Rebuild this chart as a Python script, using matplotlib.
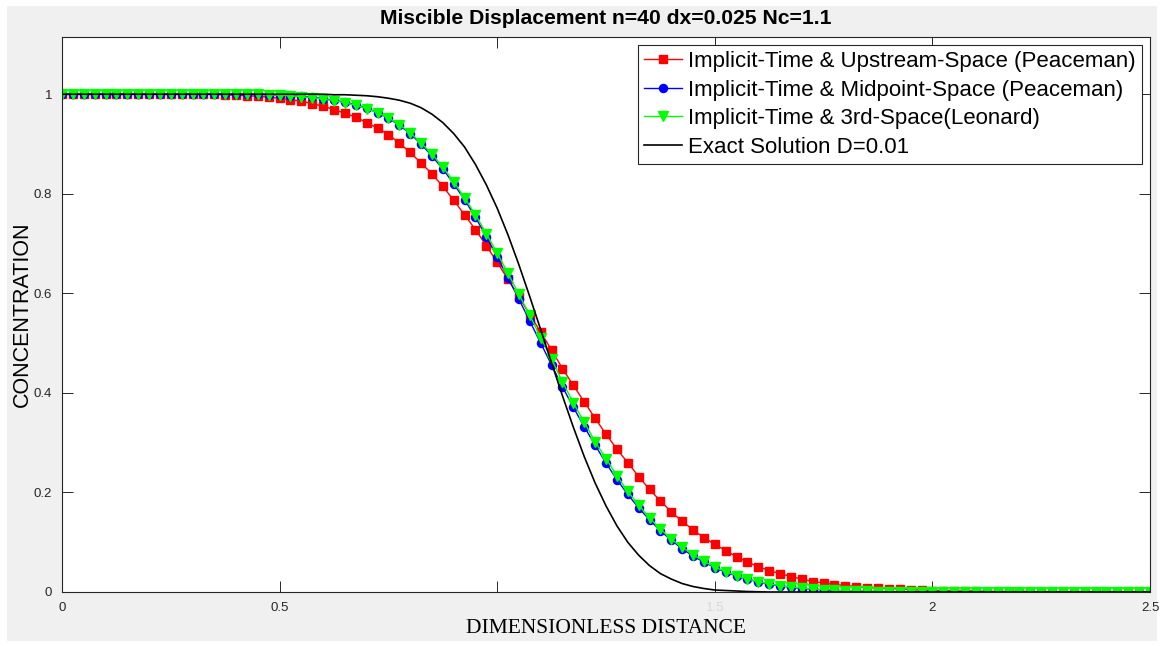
import numpy as np
import matplotlib
matplotlib.use("Agg")
import matplotlib.pyplot as plt
from matplotlib.patches import Rectangle

# grid: n=40 cells per unit, dx=0.025, 0..2.5
x = np.linspace(0, 2.5, 101)

upstream = [
    1.0, 1.0, 1.0, 1.0, 1.0, 1.0, 1.0, 1.0, 1.0, 1.0,
    1.0, 1.0, 1.0, 1.0, 1.0, 0.999, 0.998, 0.997, 0.996, 0.994,
    0.992, 0.989, 0.986, 0.981, 0.976, 0.969, 0.962, 0.954, 0.943, 0.932,
    0.919, 0.902, 0.883, 0.862, 0.840, 0.815, 0.787, 0.758, 0.728, 0.696,
    0.662, 0.628, 0.593, 0.557, 0.522, 0.486, 0.449, 0.415, 0.382, 0.349,
    0.317, 0.287, 0.260, 0.232, 0.206, 0.183, 0.161, 0.142, 0.125, 0.109,
    0.096, 0.083, 0.071, 0.060, 0.051, 0.043, 0.037, 0.031, 0.026, 0.021,
    0.018, 0.015, 0.013, 0.011, 0.009, 0.008, 0.007, 0.006, 0.005, 0.004,
    0.003, 0.003, 0.002, 0.002, 0.002, 0.001, 0.001, 0.001, 0.001, 0.001,
    0.0, 0.0, 0.0, 0.0, 0.0, 0.0, 0.0, 0.0, 0.0, 0.0,
    0.0,
]

midpoint = [
    1.0, 1.0, 1.0, 1.0, 1.0, 1.0, 1.0, 1.0, 1.0, 1.0,
    1.0, 1.0, 1.0, 1.0, 1.0, 1.0, 1.0, 1.0, 1.0, 0.999,
    0.998, 0.997, 0.996, 0.994, 0.991, 0.988, 0.984, 0.979, 0.972, 0.963,
    0.952, 0.938, 0.921, 0.900, 0.876, 0.850, 0.820, 0.788, 0.753, 0.714,
    0.673, 0.631, 0.588, 0.544, 0.500, 0.456, 0.412, 0.371, 0.332, 0.295,
    0.259, 0.226, 0.196, 0.169, 0.145, 0.123, 0.104, 0.087, 0.072, 0.060,
    0.049, 0.040, 0.032, 0.026, 0.020, 0.016, 0.012, 0.010, 0.007, 0.006,
    0.004, 0.003, 0.002, 0.002, 0.001, 0.001, 0.0, 0.0, 0.0, 0.0,
    0.0, 0.0, 0.0, 0.0, 0.0, 0.0, 0.0, 0.0, 0.0, 0.0,
    0.0, 0.0, 0.0, 0.0, 0.0, 0.0, 0.0, 0.0, 0.0, 0.0,
    0.0,
]

leonard = [
    1.0, 1.0, 1.0, 1.0, 1.0, 1.0, 1.0, 1.0, 1.0, 1.0,
    1.0, 1.0, 1.0, 1.0, 1.0, 1.0, 1.0, 1.0, 1.0, 0.999,
    0.998, 0.997, 0.995, 0.993, 0.990, 0.987, 0.983, 0.978, 0.971, 0.963,
    0.953, 0.939, 0.923, 0.902, 0.880, 0.854, 0.824, 0.792, 0.758, 0.720,
    0.681, 0.640, 0.598, 0.556, 0.511, 0.468, 0.422, 0.380, 0.341, 0.302,
    0.268, 0.234, 0.202, 0.175, 0.149, 0.127, 0.106, 0.090, 0.075, 0.062,
    0.050, 0.041, 0.033, 0.026, 0.021, 0.016, 0.013, 0.010, 0.008, 0.006,
    0.005, 0.004, 0.003, 0.002, 0.002, 0.001, 0.001, 0.0, 0.0, 0.0,
    0.0, 0.0, 0.0, 0.0, 0.0, 0.0, 0.0, 0.0, 0.0, 0.0,
    0.0, 0.0, 0.0, 0.0, 0.0, 0.0, 0.0, 0.0, 0.0, 0.0,
    0.0,
]

exact = [
    1.0, 1.0, 1.0, 1.0, 1.0, 1.0, 1.0, 1.0, 1.0, 1.0,
    1.0, 1.0, 1.0, 1.0, 1.0, 1.0, 1.0, 1.0, 1.0, 1.0,
    1.0, 1.0, 1.0, 1.0, 1.0, 0.999, 0.999, 0.998, 0.997, 0.995,
    0.992, 0.988, 0.982, 0.973, 0.960, 0.943, 0.921, 0.894, 0.859, 0.818,
    0.771, 0.717, 0.657, 0.593, 0.527, 0.460, 0.394, 0.331, 0.272, 0.219,
    0.173, 0.133, 0.100, 0.074, 0.053, 0.037, 0.026, 0.017, 0.011, 0.007,
    0.004, 0.003, 0.002, 0.001, 0.0005, 0.0, 0.0, 0.0, 0.0, 0.0,
    0.0, 0.0, 0.0, 0.0, 0.0, 0.0, 0.0, 0.0, 0.0, 0.0,
    0.0, 0.0, 0.0, 0.0, 0.0, 0.0, 0.0, 0.0, 0.0, 0.0,
    0.0, 0.0, 0.0, 0.0, 0.0, 0.0, 0.0, 0.0, 0.0, 0.0,
    0.0,
]

labels = [
    "Implicit-Time & Upstream-Space (Peaceman)",
    "Implicit-Time & Midpoint-Space (Peaceman)",
    "Implicit-Time & 3rd-Space(Leonard)",
    "Exact Solution D=0.01",
]

xticks = [0, 0.5, 1, 1.5, 2, 2.5]
xticklabels = ["0", "0.5", "", "1.5", "2", "2.5"]
yticks = [0, 0.2, 0.4, 0.6, 0.8, 1]
yticklabels = ["0", "0.2", "0.4", "0.6", "0.8", "1"]

plt.rcParams["font.family"] = ["Liberation Sans", "DejaVu Sans"]

fig = plt.figure(figsize=(11.71, 6.46), dpi=100, facecolor="white")
fig.patches.append(Rectangle((7 / 1171, 5 / 646), 1150 / 1171, 635 / 646,
                             transform=fig.transFigure, facecolor="#f0f0f0",
                             edgecolor="none", zorder=-10))
ax = fig.add_axes([62 / 1171, 1 - 592 / 646, 1088 / 1171, 555 / 646])

ax.plot(x, upstream, "-s", color="#ff0000", lw=1.0, ms=5.2, label=labels[0])
ax.plot(x, midpoint, "-o", color="#0000ff", lw=1.0, ms=5.8, label=labels[1])
ax.plot(x, leonard, "-v", color="#00ff00", lw=1.0, ms=6.8, label=labels[2])
ax.plot(x, exact, "-", color="black", lw=1.2, label=labels[3])

ax.set_xlim(0, 2.5)
ax.set_ylim(0, 1.115)
ax.set_xticks(xticks)
ax.set_xticklabels(xticklabels)
ax.set_yticks(yticks)
ax.set_yticklabels(yticklabels)
ax.tick_params(direction="in", length=8, width=0.7, top=True, right=True,
               labelsize=9.5, colors="#262626", pad=7)
ax.get_xticklabels()[3].set_color("#d8d8d8")
for s in ax.spines.values():
    s.set_color("#262626")
    s.set_linewidth(0.8)

ax.set_title("Miscible Displacement n=40 dx=0.025 Nc=1.1",
             fontsize=15.2, fontweight="bold", pad=9)
ax.set_xlabel("DIMENSIONLESS DISTANCE", family="Liberation Serif",
              fontsize=15.5, labelpad=4)
ax.set_ylabel("CONCENTRATION", fontsize=15.5, labelpad=1)

leg = ax.legend(loc="upper right", fontsize=16, fancybox=False,
                framealpha=1, edgecolor="#262626", borderaxespad=0.35,
                handlelength=1.7, handletextpad=0.3, labelspacing=0.34,
                borderpad=0.28)
leg.get_frame().set_linewidth(0.8)

fig.savefig("out.png", dpi=100, facecolor=fig.get_facecolor())
